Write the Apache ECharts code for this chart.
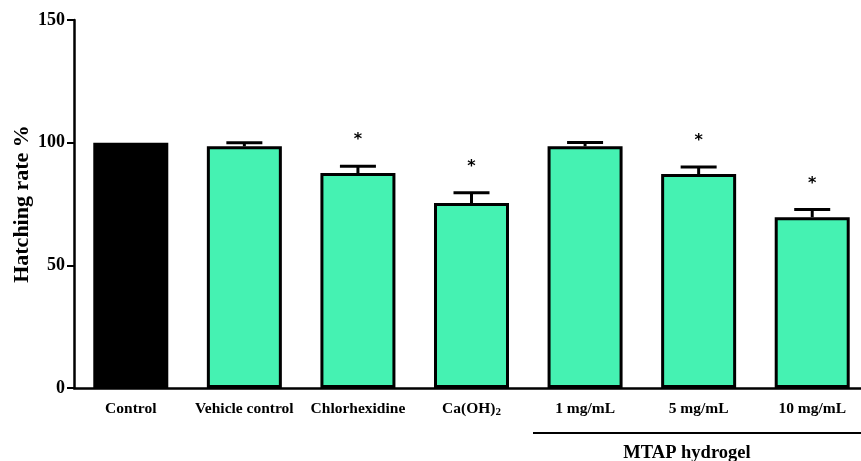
<!DOCTYPE html>
<html>
<head>
<meta charset="utf-8">
<script src="https://cdn.jsdelivr.net/npm/echarts@6/dist/echarts.min.js"></script>
<style>
  html, body { margin: 0; padding: 0; background: #fff; }
  #chart { width: 861px; height: 461px; }
</style>
</head>
<body>
<div id="chart"></div>
<script>
// Hatching rate per treatment group (mean, error, significance mark)
const categories = ['Control', 'Vehicle control', 'Chlorhexidine', 'Ca(OH)2', '1 mg/mL', '5 mg/mL', '10 mg/mL'];
const means      = [100, 98.5, 87.6, 75.4, 98.5, 87.2, 69.6];
const errors     = [0, 1.5, 2.8, 4.2, 1.6, 2.9, 3.2];
const marks      = ['', '', '*', '*', '', '*', '*'];
const yTicks     = [0, 50, 100, 150];

const FONT = '"Liberation Serif", "Times New Roman", serif';
const TEAL = '#45F2B2';

const chart = echarts.init(document.getElementById('chart'), null, { renderer: 'canvas' });

const barData = means.map((v, i) => ({
  value: v,
  itemStyle: i === 0 ? { color: '#000', borderColor: '#000' } : { color: TEAL, borderColor: '#000' }
}));

chart.setOption({
  animation: false,
  grid: { left: 74, top: 20, bottom: 73, width: 795, outerBoundsMode: 'none', containLabel: false },
  xAxis: {
    type: 'category',
    data: categories,
    axisLine: { lineStyle: { color: '#000', width: 2.5 } },
    axisTick: { alignWithLabel: true, length: 6, lineStyle: { color: '#000', width: 2 } },
    axisLabel: {
      interval: 0,
      margin: 12,
      color: '#000',
      fontFamily: FONT,
      fontWeight: 'bold',
      fontSize: 15.5,
      lineHeight: 18,
      formatter: v => v === 'Ca(OH)2' ? '{b|Ca(OH)}{s|2}' : v,
      rich: {
        b: { fontFamily: FONT, fontWeight: 'bold', fontSize: 15.5, lineHeight: 18, color: '#000' },
        s: { fontFamily: FONT, fontWeight: 'bold', fontSize: 11, lineHeight: 6, verticalAlign: 'bottom', color: '#000' }
      }
    }
  },
  yAxis: {
    type: 'value',
    min: yTicks[0],
    max: yTicks[yTicks.length - 1],
    interval: 50,
    name: 'Hatching rate %',
    nameLocation: 'middle',
    nameGap: 41,
    nameRotate: 90,
    nameMoveOverlap: false,
    nameTextStyle: { fontFamily: FONT, fontWeight: 'bold', fontSize: 22, color: '#000' },
    axisLine: { show: true, lineStyle: { color: '#000', width: 2.5 } },
    axisTick: { show: true, length: 7, lineStyle: { color: '#000', width: 2 } },
    axisLabel: { margin: 9, color: '#000', fontFamily: FONT, fontWeight: 'bold', fontSize: 18 },
    splitLine: { show: false }
  },
  series: [
    {
      type: 'bar',
      data: barData,
      barWidth: 75,
      itemStyle: { borderWidth: 3 },
      z: 2
    },
    {
      // error bars with cap and significance star above
      type: 'custom',
      z: 3,
      data: means.map((m, i) => [i, m, errors[i]]),
      renderItem: (params, api) => {
        const i = api.value(0);
        const m = api.value(1);
        const e = api.value(2);
        const mark = marks[i];
        const children = [];
        if (e > 0) {
          const base = api.coord([i, m]);
          const top = api.coord([i, m + e]);
          const half = 18;
          children.push({
            type: 'line',
            shape: { x1: base[0], y1: base[1], x2: top[0], y2: top[1] },
            style: { stroke: '#000', lineWidth: 3 }
          });
          children.push({
            type: 'line',
            shape: { x1: top[0] - half, y1: top[1], x2: top[0] + half, y2: top[1] },
            style: { stroke: '#000', lineWidth: 3 }
          });
          if (mark) {
            children.push({
              type: 'text',
              style: {
                text: mark,
                x: top[0],
                y: top[1] - 26,
                align: 'center',
                verticalAlign: 'middle',
                font: 'bold 16px "DejaVu Sans", sans-serif',
                fill: '#000'
              }
            });
          }
        }
        return { type: 'group', children };
      }
    }
  ],
  graphic: [
    {
      type: 'line',
      shape: { x1: 533, y1: 433, x2: 861, y2: 433 },
      style: { stroke: '#000', lineWidth: 2 }
    },
    {
      type: 'text',
      x: 687,
      y: 453,
      style: {
        text: 'MTAP hydrogel',
        align: 'center',
        verticalAlign: 'middle',
        font: 'bold 18.5px "Liberation Serif", "Times New Roman", serif',
        fill: '#000'
      }
    }
  ]
});
</script>
</body>
</html>
